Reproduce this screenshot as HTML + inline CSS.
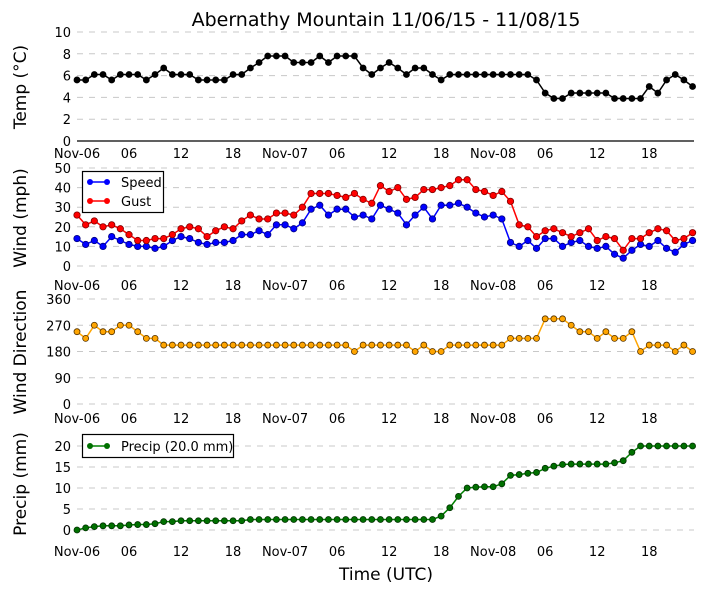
<!DOCTYPE html>
<html><head><meta charset="utf-8"><style>
body{margin:0;background:#fff;}
svg{display:block;font-family:"DejaVu Sans","Liberation Sans",sans-serif;}
</style></head><body>
<svg id="chart" width="705" height="593" viewBox="0 0 705 593" xmlns="http://www.w3.org/2000/svg">
<rect width="705" height="593" fill="#fff"/>
<text x="386" y="26" font-size="19" text-anchor="middle">Abernathy Mountain 11/06/15 - 11/08/15</text>
<text x="386" y="580" font-size="17" text-anchor="middle">Time (UTC)</text>
</svg>
<script>
const xTickLabels=["Nov-06","06","12","18","Nov-07","06","12","18","Nov-08","06","12","18"];
const tempValues=[5.6,5.6,6.1,6.1,5.6,6.1,6.1,6.1,5.6,6.1,6.7,6.1,6.1,6.1,5.6,5.6,5.6,5.6,6.1,6.1,6.7,7.2,7.8,7.8,7.8,7.2,7.2,7.2,7.8,7.2,7.8,7.8,7.8,6.7,6.1,6.7,7.2,6.7,6.1,6.7,6.7,6.1,5.6,6.1,6.1,6.1,6.1,6.1,6.1,6.1,6.1,6.1,6.1,5.6,4.4,3.9,3.9,4.4,4.4,4.4,4.4,4.4,3.9,3.9,3.9,3.9,5.0,4.4,5.6,6.1,5.6,5.0];
const speedValues=[14,11,13,10,15,13,11,10,10,9,10,13,15,14,12,11,12,12,13,16,16,18,16,21,21,19,22,29,31,26,29,29,25,26,24,31,29,27,21,26,30,24,31,31,32,30,27,25,26,24,12,10,13,9,14,14,10,12,13,10,9,10,6,4,8,11,10,13,9,7,11,13];
const gustValues=[26,21,23,20,21,19,16,13,13,14,14,16,19,20,19,15,18,20,19,23,26,24,24,27,27,26,30,37,37,37,36,35,37,34,32,41,38,40,34,35,39,39,40,41,44,44,39,38,36,38,33,21,20,15,18,19,17,15,17,19,13,15,14,8,14,14,17,19,18,13,14,17];
const dirValues=[248,225,270,248,248,270,270,248,225,225,202,202,202,202,202,202,202,202,202,202,202,202,202,202,202,202,202,202,202,202,202,202,180,202,202,202,202,202,202,180,202,180,180,202,202,202,202,202,202,202,225,225,225,225,292,292,292,270,248,248,225,248,225,225,248,180,202,202,202,180,202,180];
const precipValues=[0,0.5,0.8,1,1,1,1.2,1.3,1.3,1.5,2,2,2.2,2.2,2.2,2.2,2.2,2.2,2.2,2.2,2.5,2.5,2.5,2.5,2.5,2.5,2.5,2.5,2.5,2.5,2.5,2.5,2.5,2.5,2.5,2.5,2.5,2.5,2.5,2.5,2.5,2.5,3.3,5.3,8.0,10,10.2,10.3,10.3,11,13,13.2,13.5,13.7,14.7,15.2,15.6,15.7,15.7,15.7,15.7,15.7,16,16.5,18.5,20,20,20,20,20,20,20];
const tempTicks=[0,2,4,6,8,10];
const windTicks=[0,10,20,30,40,50];
const dirTicks=[0,90,180,270,360];
const precipTicks=[0,5,10,15,20];

const svg=document.getElementById('chart');
const NS='http://www.w3.org/2000/svg';
const X0=77,X1=694,PX=(694-77)/71.2;
function xScale(i){return X0+i*8.67;}
function mk(tag,attrs,parent){const e=document.createElementNS(NS,tag);for(const k in attrs)e.setAttribute(k,attrs[k]);(parent||svg).appendChild(e);return e;}
function panel(name,ylab,ylabY,yTop,yBot,vmax,ticks,labelY,solidBase){
  const ys=v=>yBot-(v/vmax)*(yBot-yTop);
  const g=mk('g',{});
  
  
  ticks.forEach(t=>{
    const y=ys(t);
    if(!(solidBase&&t===0)){
      const l=mk('line',{x1:X0,x2:X1,y1:y,y2:y,stroke:'#c8c8c8','stroke-width':1,'stroke-dasharray':'6,6'},g);
      
      
    }
    const tx=mk('text',{x:71,y:y+5,'font-size':13,'text-anchor':'end'},g);
    
    
    tx.textContent=t;
  });
  if(solidBase){
    const b=mk('line',{x1:X0,x2:X1,y1:yBot,y2:yBot,stroke:'#000','stroke-width':1.2},g);
    
    
  }
  xTickLabels.forEach((s,i)=>{
    const tx=mk('text',{x:xScale(i*6),y:labelY,'font-size':13,'text-anchor':'middle'},g);
    
    
    tx.textContent=s;
  });
  const yl=mk('text',{x:0,y:0,'font-size':17,'text-anchor':'middle',transform:`translate(26,${ylabY}) rotate(-90)`},g);
  
  
  yl.textContent=ylab;
  return {g,ys};
}
function series(p,vals,name,line,fill,edge,r){
  const pts=vals.map((v,i)=>xScale(i).toFixed(1)+','+p.ys(v).toFixed(1)).join(' ');
  const pl=mk('polyline',{points:pts,fill:'none',stroke:line,'stroke-width':1.5},p.g);
  
  
  vals.forEach((v,i)=>{
    const c=mk('circle',{cx:xScale(i),cy:p.ys(v),r:r,fill:fill,stroke:edge,'stroke-width':0.8},p.g);
    
    
  });
}
const p1=panel('temp','Temp (\u00B0C)',87,32,141,10,tempTicks,158,true);
series(p1,tempValues,'temp','#000','#000','#000',3);
const p2=panel('wind','Wind (mph)',218,168,266,50,windTicks,290,false);
series(p2,speedValues,'speed','#0000ff','#0000ff','#000080',3.2);
series(p2,gustValues,'gust','#ff0000','#ff0000','#800000',3.2);
const p3=panel('direction','Wind Direction',352,299,404,360,dirTicks,423,false);
series(p3,dirValues,'direction','#ffa500','#ffa500','#553300',3);
const p4=panel('precip','Precip (mm)',484,446,530,20,precipTicks,556,false);
series(p4,precipValues,'precip','#008000','#007000','#003000',3);

// legends
const lg1=mk('g',{});


mk('rect',{x:82.5,y:171.5,width:81,height:41,fill:'#fff',stroke:'#000','stroke-width':1.2},lg1);
mk('line',{x1:90,x2:107,y1:182,y2:182,stroke:'#0000ff','stroke-width':1.5},lg1);
mk('circle',{cx:90,cy:182,r:3,fill:'#0000ff'},lg1);mk('circle',{cx:107,cy:182,r:3,fill:'#0000ff'},lg1);
const t1=mk('text',{x:121,y:187,'font-size':13},lg1);


t1.textContent='Speed';
mk('line',{x1:90,x2:107,y1:201,y2:201,stroke:'#ff0000','stroke-width':1.5},lg1);
mk('circle',{cx:90,cy:201,r:3,fill:'#ff0000'},lg1);mk('circle',{cx:107,cy:201,r:3,fill:'#ff0000'},lg1);
const t2=mk('text',{x:121,y:206,'font-size':13},lg1);


t2.textContent='Gust';
const lg2=mk('g',{});


mk('rect',{x:82.5,y:434.5,width:151,height:23,fill:'#fff',stroke:'#000','stroke-width':1.2},lg2);
mk('line',{x1:90,x2:107,y1:446,y2:446,stroke:'#008000','stroke-width':1.5},lg2);
mk('circle',{cx:90,cy:446,r:3,fill:'#007000'},lg2);mk('circle',{cx:107,cy:446,r:3,fill:'#007000'},lg2);
const t3=mk('text',{x:121,y:451,'font-size':13},lg2);


t3.textContent='Precip (20.0 mm)';
</script>
</body></html>
